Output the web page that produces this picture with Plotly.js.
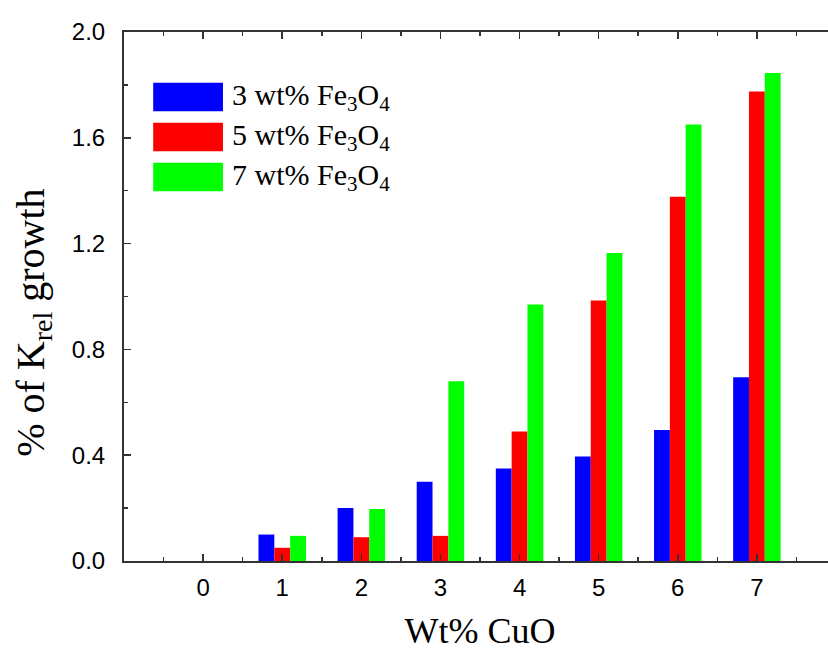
<!DOCTYPE html>
<html>
<head>
<meta charset="utf-8">
<script src="https://cdn.plot.ly/plotly-3.0.1.min.js"></script>
<style>
html,body{margin:0;padding:0;overflow:hidden;background:#fff;}
#chart{width:840px;height:659px;}
</style>
</head>
<body>
<div id="chart"></div>
<script>
// Data
const cuo = [0, 1, 2, 3, 4, 5, 6, 7];
const fe3 = [0, 0.10, 0.20, 0.30, 0.35, 0.395, 0.495, 0.695];
const fe5 = [0, 0.05, 0.09, 0.095, 0.49, 0.985, 1.377, 1.775];
const fe7 = [0, 0.095, 0.197, 0.68, 0.97, 1.164, 1.65, 1.845];
const seriesNames = ['3 wt% Fe<sub>3</sub>O<sub>4</sub>', '5 wt% Fe<sub>3</sub>O<sub>4</sub>', '7 wt% Fe<sub>3</sub>O<sub>4</sub>'];
const seriesColors = ['#0000FF', '#FF0000', '#00FF00'];
const seriesValues = [fe3, fe5, fe7];
const yTicks = [0, 0.4, 0.8, 1.2, 1.6, 2.0];
const yTickText = ['0.0', '0.4', '0.8', '1.2', '1.6', '2.0'];
const xTitle = 'Wt% CuO';
const yTitle = '% of K<sub>rel</sub> growth';

const serif = 'Liberation Serif, Times New Roman, serif';
const sans = 'Liberation Sans, Arial, sans-serif';

const traces = seriesValues.map((v, i) => ({
  type: 'bar', x: cuo, y: v, name: seriesNames[i],
  marker: {color: seriesColors[i], line: {width: 0}},
  showlegend: false
}));

// Custom legend (large swatches)
const shapes = [], annotations = [];
const lgX0 = 0.041, lgX1 = 0.139, lgTop = 0.904, lgH = 0.054, lgStep = 0.0755;
seriesNames.forEach((n, i) => {
  const top = lgTop - i * lgStep;
  shapes.push({type: 'rect', xref: 'paper', yref: 'paper', x0: lgX0, x1: lgX1, y0: top - lgH, y1: top,
    fillcolor: seriesColors[i], line: {width: 0}});
  annotations.push({xref: 'paper', yref: 'paper', x: 0.149, y: top - lgH / 2, xanchor: 'left', yanchor: 'middle',
    text: n, showarrow: false, font: {family: serif, size: 30, color: '#000'}});
});
// y-axis title as rotated annotation (placed as in the reference)
annotations.push({xref: 'paper', yref: 'paper', x: -0.128, y: 0.45, xanchor: 'center', yanchor: 'middle',
  textangle: -90, text: yTitle, showarrow: false, font: {family: serif, size: 40, color: '#000'}});

const axisCommon = {
  showline: true, linecolor: '#333', linewidth: 2, mirror: 'allticks',
  ticks: 'inside', ticklen: 7, tickwidth: 1.5, tickcolor: '#333',
  showgrid: false, zeroline: false,
  tickfont: {family: sans, size: 24, color: '#000'}
};

const layout = {
  width: 840, height: 659,
  margin: {l: 124, r: 4, t: 32, b: 98},
  paper_bgcolor: '#fff', plot_bgcolor: '#fff',
  barmode: 'group', bargap: 0.4, bargroupgap: 0,
  xaxis: Object.assign({}, axisCommon, {
    range: [-1, 8], tickmode: 'array', tickvals: cuo, ticktext: cuo.map(String),
    ticklabelstandoff: 4,
    minor: {ticks: 'inside', dtick: 0.5, tick0: 0, ticklen: 4, tickwidth: 1.5, tickcolor: '#333', showgrid: false},
    title: {text: xTitle, standoff: 18, font: {family: serif, size: 36, color: '#000'}}
  }),
  yaxis: Object.assign({}, axisCommon, {
    range: [0, 2.0], tickmode: 'array', tickvals: yTicks, ticktext: yTickText,
    ticklabelstandoff: 12,
    minor: {ticks: 'inside', dtick: 0.2, tick0: 0, ticklen: 4, tickwidth: 1.5, tickcolor: '#333', showgrid: false}
  }),
  shapes: shapes, annotations: annotations
};

Plotly.newPlot('chart', traces, layout, {displayModeBar: false, staticPlot: true});
</script>
</body>
</html>
